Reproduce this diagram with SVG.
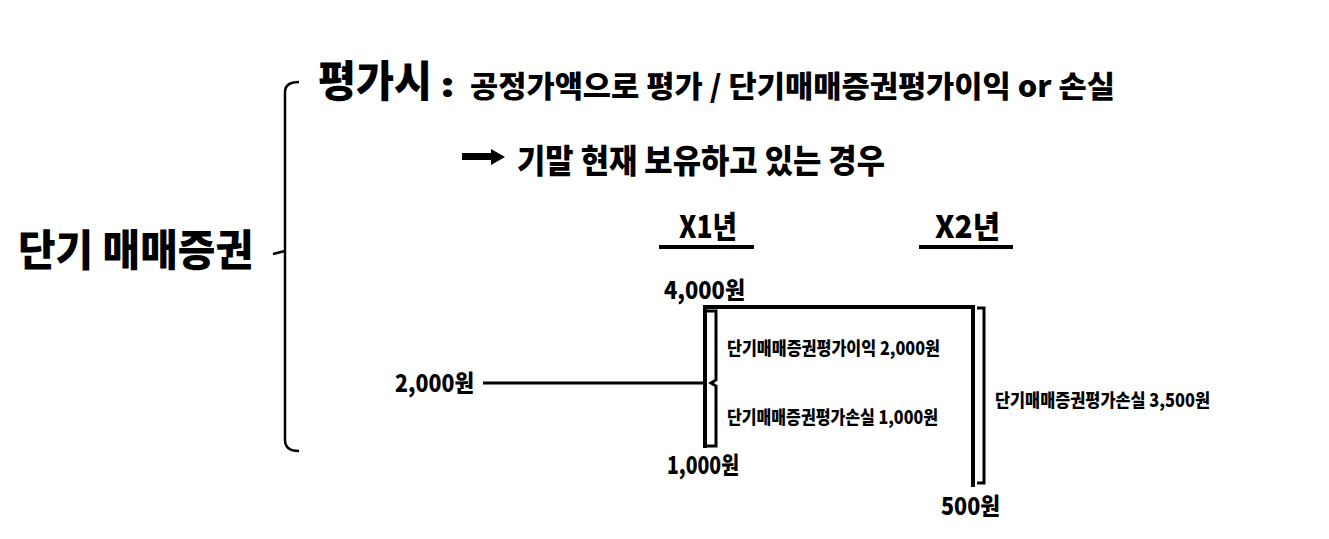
<svg xmlns="http://www.w3.org/2000/svg" width="1329" height="539" viewBox="0 0 1329 539">
<style>
text{font-family:"Noto Sans CJK KR","Noto Sans",sans-serif;font-weight:900;fill:#000}
.ln{fill:none;stroke:#000;stroke-linecap:butt;stroke-linejoin:miter}
</style>
<rect width="1329" height="539" fill="#fff"/>
<g id="title">
<text x="18" y="266" font-size="43" textLength="235" lengthAdjust="spacingAndGlyphs">단기 매매증권</text>
</g>
<g id="eval">
<text x="318" y="97" font-size="43" textLength="114" lengthAdjust="spacingAndGlyphs">평가시</text>
<text x="440" y="97" font-size="34" textLength="15" lengthAdjust="spacingAndGlyphs">:</text>
<text x="470" y="97" font-size="30" textLength="645" lengthAdjust="spacingAndGlyphs">공정가액으로 평가 / 단기매매증권평가이익 or 손실</text>
</g>
<g id="cond">
<path d="M462,153 H491 V149 L505,157 L491,165 V160 H462 Z" fill="#000"/>
<text x="517" y="173" font-size="33" textLength="368" lengthAdjust="spacingAndGlyphs">기말 현재 보유하고 있는 경우</text>
</g>
<g id="x1">
<text x="679" y="238" font-size="31" textLength="58" lengthAdjust="spacingAndGlyphs">X1년</text>
</g>
<g id="x2">
<text x="935" y="238" font-size="31" textLength="65" lengthAdjust="spacingAndGlyphs">X2년</text>
</g>
<g id="values">
<text x="664" y="299" font-size="24" textLength="81" lengthAdjust="spacingAndGlyphs">4,000원</text>
<text x="395" y="392" font-size="24" textLength="79" lengthAdjust="spacingAndGlyphs">2,000원</text>
<text x="667" y="474" font-size="24" textLength="72" lengthAdjust="spacingAndGlyphs">1,000원</text>
<text x="941" y="515" font-size="24" textLength="59" lengthAdjust="spacingAndGlyphs">500원</text>
</g>
<g id="labels">
<text x="727" y="355" font-size="18" textLength="213" lengthAdjust="spacingAndGlyphs">단기매매증권평가이익 2,000원</text>
<text x="727" y="424" font-size="18" textLength="211" lengthAdjust="spacingAndGlyphs">단기매매증권평가손실 1,000원</text>
<text x="995" y="407" font-size="18" textLength="215" lengthAdjust="spacingAndGlyphs">단기매매증권평가손실 3,500원</text>
</g>
<g id="connectors">
<path class="ln" stroke-width="2.5" d="M299,82 Q285,82 285,92 V440 Q285,451 299,451 M285,251 L273,254"/>
<path class="ln" stroke-width="4" d="M659,247 H754 M919,247 H1013"/>
<path class="ln" stroke-width="4" d="M705,448 V307 H973 V487"/>
<path class="ln" stroke-width="3" d="M707,311 H716 V380 L711,383 L716,386 V446 H707"/>
<path class="ln" stroke-width="3" d="M483,383 H707"/>
<path class="ln" stroke-width="3" d="M977,308 H984 V483 H977"/>
</g>
</svg>
